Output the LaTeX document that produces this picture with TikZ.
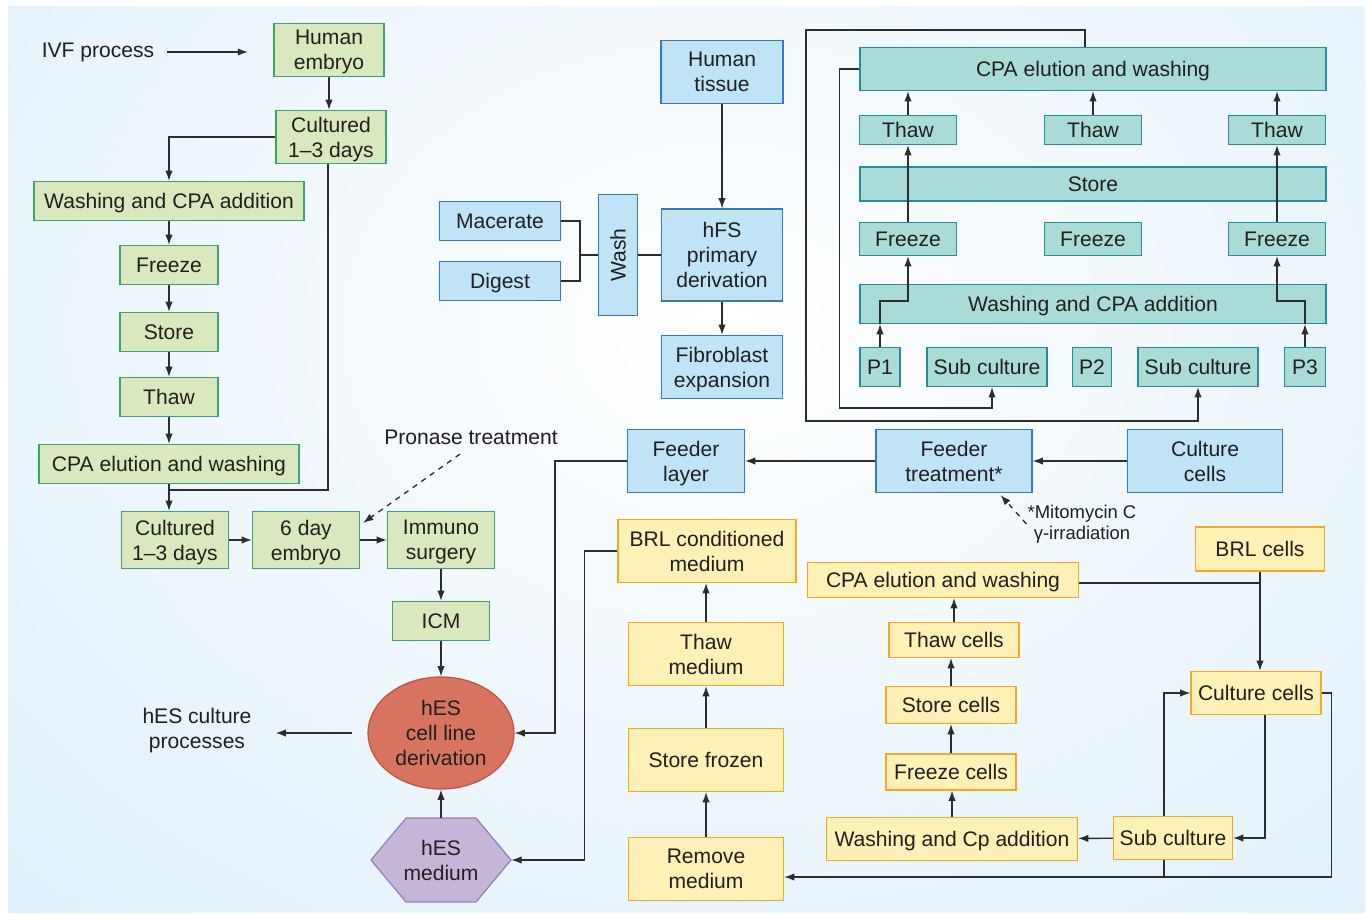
\documentclass[tikz,border=0pt]{standalone}
\usepackage{fontspec}
\setmainfont{Liberation Sans}
\usepackage{graphicx}
\usetikzlibrary{shapes.geometric,arrows.meta}
\definecolor{bgblue}{RGB}{216,236,249}
\definecolor{txtc}{RGB}{35,31,32}
\definecolor{linec}{RGB}{45,45,48}
\definecolor{gfill}{RGB}{217,232,190}
\definecolor{gline}{RGB}{60,165,110}
\definecolor{bfill}{RGB}{192,227,246}
\definecolor{bline}{RGB}{55,120,190}
\definecolor{tfill}{RGB}{169,220,214}
\definecolor{tline}{RGB}{40,140,160}
\definecolor{yfill}{RGB}{255,240,182}
\definecolor{yline}{RGB}{245,168,40}
\definecolor{elfill}{RGB}{215,116,95}
\definecolor{elline}{RGB}{200,80,65}
\definecolor{hxfill}{RGB}{197,182,216}
\definecolor{hxline}{RGB}{150,125,190}

\begin{document}
\begin{tikzpicture}[x=0.02cm,y=-0.02cm,
	every node/.style={font=\fontsize{12}{14.2}\selectfont, text=txtc},
	sz/.style 2 args={minimum width=#1*0.02cm, minimum height=#2*0.02cm},
	box/.style={draw, line width=0.7pt, inner sep=0pt, align=center, text depth=0pt},
	gbox/.style={box, fill=gfill, draw=gline},
	bbox/.style={box, fill=bfill, draw=bline},
	tbox/.style={box, fill=tfill, draw=tline},
	ybox/.style={box, fill=yfill, draw=yline},
	ln/.style={draw=linec, line width=0.75pt},
	arr/.style={ln, -{Latex[length=5.8pt,width=4.2pt]}},
	dsh/.style={arr, dashed}]
		\useasboundingbox (0,0) rectangle (1372,915);
		\fill[bgblue] (8,7) rectangle (1365,912);
		\begin{scope}
		\clip (8,7) rectangle (1365,912);
		\shade[inner color=white, outer color=bgblue] (720,330) ellipse [x radius=26cm, y radius=20cm];
		\end{scope}

		\node (ivf) at (98,52) {IVF process};
		\coordinate (ivfend) at (248,52);
		\node[gbox, sz={110}{53}] (emb) at (329,50) {Human\\embryo};
		\node[gbox, sz={110}{53}] (cultA) at (331,137) {Cultured\\1--3 days};
		\node[gbox, sz={270}{39}] (gwash) at (169,201) {Washing and CPA addition};
		\node[gbox, sz={98}{39}] (gfreeze) at (169,265) {Freeze};
		\node[gbox, sz={98}{39}] (gstore) at (169,332) {Store};
		\node[gbox, sz={98}{39}] (gthaw) at (169,397) {Thaw};
		\node[gbox, sz={260}{39}] (gcpa) at (169,464) {CPA elution and washing};
		\node[gbox, sz={107}{57}] (cultB) at (175,540) {Cultured\\1--3 days};
		\node[gbox, sz={107}{57}] (day6) at (306,540) {6 day\\embryo};
		\node[gbox, sz={107}{57}] (immuno) at (441,540) {Immuno\\surgery};
		\node[gbox, sz={97}{39}] (icm) at (441,621) {ICM};
		\node[ellipse, draw=elline, fill=elfill, line width=0.7pt, inner sep=0pt, align=center, text depth=0pt, sz={146}{112}] (hes) at (441,733) {hES\\cell line\\derivation};
		\filldraw[fill=hxfill, draw=hxline, line width=0.7pt] (371,860) -- (406,818) -- (476,818) -- (511,860) -- (476,902) -- (406,902) -- cycle;
		\node[sz={140}{84}, inner sep=0pt, align=center, text depth=0pt] (hesm) at (441,860) {hES\\medium};
		\node[align=center] (hcp) at (197,731) {hES culture\\processes};
		\node (pron) at (471,437) {Pronase treatment};

		\node[bbox, sz={122}{63}] (tissue) at (722,72) {Human\\tissue};
		\node[bbox, sz={121}{92}] (hfs) at (722,255) {hFS\\primary\\derivation};
		\node[bbox, sz={121}{63}] (fibro) at (722,367) {Fibroblast\\expansion};
		\node[bbox, sz={121}{39}] (macer) at (500,221) {Macerate};
		\node[bbox, sz={121}{39}] (digest) at (500,281) {Digest};
		\node[bbox, sz={39}{121}] (wash) at (618,255) {\rotatebox{90}{Wash}};
		\node[bbox, sz={117}{63}] (feedl) at (686,461) {Feeder\\layer};
		\node[bbox, sz={156}{63}] (feedt) at (954,461) {Feeder\\treatment*};
		\node[bbox, sz={155}{63}] (bcult) at (1205,461) {Culture\\cells};
		\node[font=\fontsize{10.5}{12.2}\selectfont, align=center] (mito) at (1082,524) {*Mitomycin C\\γ-irradiation};

		\node[tbox, sz={466}{43}] (tcpa) at (1093,69) {CPA elution and washing};
		\node[tbox, sz={466}{34}] (tstore) at (1093,184) {Store};
		\node[tbox, sz={466}{39}] (twash) at (1093,304) {Washing and CPA addition};
		\foreach \n/\x in {1/908,2/1093,3/1277} {
			\node[tbox, sz={97}{29}] (thaw\n) at (\x,130) {Thaw};
			\node[tbox, sz={97}{33}] (frz\n) at (\x,239) {Freeze};
		}
		\node[tbox, sz={40}{39}] (p1) at (880,367) {P1};
		\node[tbox, sz={120}{39}] (sub1) at (987,367) {Sub culture};
		\node[tbox, sz={39}{39}] (p2) at (1092,367) {P2};
		\node[tbox, sz={120}{39}] (sub2) at (1198,367) {Sub culture};
		\node[tbox, sz={41}{39}] (p3) at (1305,367) {P3};

		\node[ybox, sz={178}{63}] (brlc) at (707,551) {BRL conditioned\\medium};
		\node[ybox, sz={155}{63}] (ythm) at (706,654) {Thaw\\medium};
		\node[ybox, sz={155}{63}] (ystf) at (706,760) {Store frozen};
		\node[ybox, sz={155}{63}] (yrem) at (706,869) {Remove\\medium};
		\node[ybox, sz={271}{35}] (ycpa) at (943,580) {CPA elution and washing};
		\node[ybox, sz={130}{35}] (ythc) at (954,640) {Thaw cells};
		\node[ybox, sz={130}{37}] (ystc) at (951,705) {Store cells};
		\node[ybox, sz={130}{36}] (yfrc) at (951,772) {Freeze cells};
		\node[ybox, sz={251}{43}] (ywash) at (952,839) {Washing and Cp addition};
		\node[ybox, sz={129}{44}] (brl) at (1260,549) {BRL cells};
		\node[ybox, sz={130}{43}] (ycult) at (1256,693) {Culture cells};
		\node[ybox, sz={119}{43}] (ysub) at (1173,838) {Sub culture};

		\draw[arr, shorten <=4pt] (ivf) -- (ivfend);
		\draw[arr] (emb.south) -- (emb.south |- cultA.north);
		\draw[arr] (cultA.west) -| (gwash.north);
		\foreach \a/\b in {gwash/gfreeze,gfreeze/gstore,gstore/gthaw,gthaw/gcpa}
			\draw[arr] (\a) -- (\b);
		\draw[arr] (gcpa.south) -- (gcpa.south |- cultB.north);
		\draw[ln] ([xshift=-0.06cm]cultA.south) |- (gcpa.south |- 0,490);
		\draw[arr] (cultB) -- (day6);
		\draw[arr] (day6) -- (immuno);
		\draw[arr] (immuno) -- (icm);
		\draw[arr] (icm) -- (hes);
		\draw[arr] (hesm) -- (hes);
		\draw[arr, shorten >=0.36cm] ([xshift=-0.3cm]hes.west) -- (hes.west -| hcp.east);
		\draw[dsh] ([xshift=-0.22cm,yshift=-2pt]pron.south) -- ([xshift=0.06cm,yshift=-0.24cm]day6.north east);
		\draw[arr] (feedl.west) -- ++(-72,0) |- (hes.east);
		\draw[arr] (brlc.west) -- ++(-33,0) |- (hesm.east);

		\draw[arr] (tissue) -- (hfs);
		\draw[arr] (hfs) -- (fibro);
		\draw[ln] (macer.east) -- ++(19,0) |- (digest.east);
		\draw[ln] (wash.west) -- ++(-19,0);
		\draw[ln] (wash) -- (hfs);
		\draw[arr] (bcult) -- (feedt);
		\draw[arr] (feedt) -- (feedl);
		\draw[dsh] ([xshift=0.1cm]mito.west) -- ([xshift=-0.64cm,yshift=-0.04cm]feedt.south east);

		\draw[arr] (p1) -- (p1 |- twash.south);
		\draw[arr] (p1 |- twash.south) -- ++(0,-23) -| (frz1.south);
		\draw[arr] (p3) -- (p3 |- twash.south);
		\draw[arr] (p3 |- twash.south) -- ++(0,-23) -| (frz3.south);
		\draw[arr] (frz1) -- (thaw1);
		\draw[arr] (frz3) -- (thaw3);
		\foreach \n in {1,2,3}
			\draw[arr] (thaw\n) -- (thaw\n |- tcpa.south);
		\draw[arr] ([xshift=-0.16cm]tcpa.north) -- ++(0,-17) -- ++(-279,0) -- ++(0,391) -| (sub2.south);
		\draw[arr] (tcpa.west) -- ++(-20,0) -- ++(0,339) -| ([xshift=0.1cm]sub1.south);

		\foreach \a/\b in {yrem/ystf,ystf/ythm,ythm/brlc,ywash/yfrc,yfrc/ystc,ystc/ythc,ythc/ycpa}
			\draw[arr] (\a.north) -- (\a.north |- \b.south);
		\draw[ln] ([yshift=-0.06cm]ycpa.east) -- ([yshift=-0.06cm]ycpa.east -| brl.south);
		\draw[arr] (brl.south) -- (brl.south |- ycult.north);
		\draw[arr] ([xshift=0.18cm]ycult.south) |- (ysub.east);
		\draw[arr] ([xshift=-0.18cm]ysub.north) |- (ycult.west);
		\draw[arr] (ysub) -- (ywash);
		\draw[arr] (ycult.east) -- ++(10,0) |- ([yshift=-0.16cm]yrem.east);
		\draw[ln] ([xshift=-0.18cm]ysub.south) -- ++(0,18);
\end{tikzpicture}
\end{document}
